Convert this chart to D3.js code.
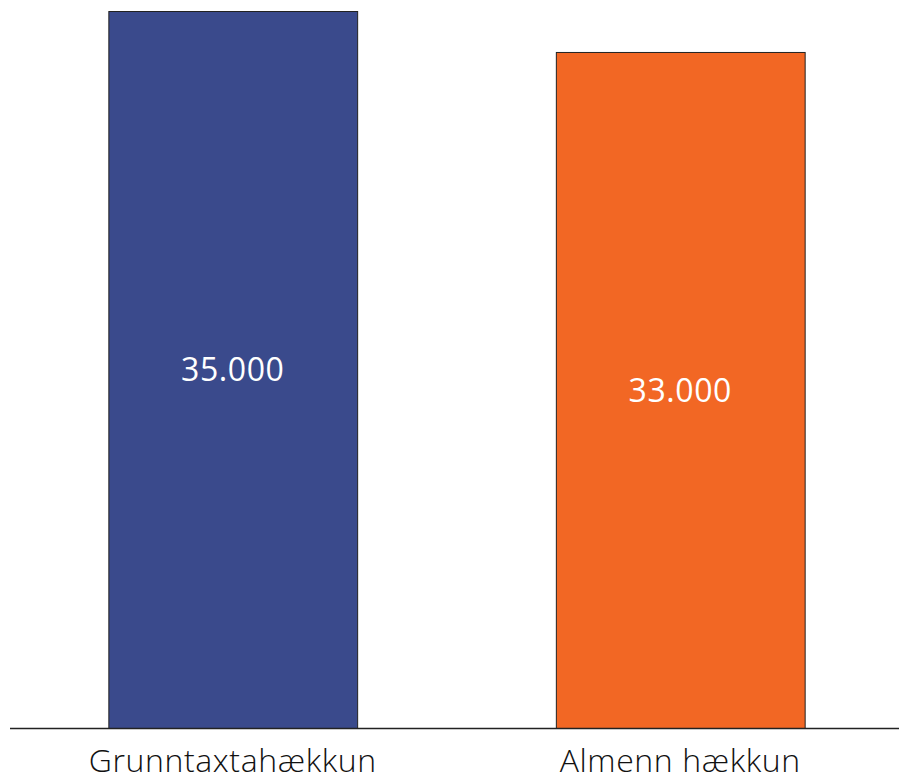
<!DOCTYPE html>
<html><head><meta charset="utf-8">
<script src="https://cdn.jsdelivr.net/npm/d3@7"></script>
<style>body{margin:0;background:#fff}svg{display:block}</style>
</head><body>
<script>
const categories = ["Grunntaxtahækkun", "Almenn hækkun"];
const values = [35000, 33000];
const valueLabels = ["35.000", "33.000"];
const colors = ["#3A4A8C", "#F26724"];

const W = 899, H = 779;
const svg = d3.select("body").append("svg").attr("width", W).attr("height", H);
const x = d3.scaleBand().domain(categories).range([9, 904]).paddingInner(0.444).paddingOuter(0.222);
const y = d3.scaleLinear().domain([0, 35000]).range([728, 11]);

svg.selectAll("rect.bar").data(categories).join("rect")
  .attr("class", "bar")
  .attr("x", d => x(d) + 0.5)
  .attr("width", x.bandwidth())
  .attr("y", (d, i) => y(values[i]) + 0.5)
  .attr("height", (d, i) => y(0) - y(values[i]))
  .attr("fill", (d, i) => colors[i])
  .attr("stroke", "#222")
  .attr("stroke-width", 1);

svg.selectAll("text.val").data(categories).join("text")
  .attr("class", "val")
  .attr("x", d => x(d) + x.bandwidth() / 2)
  .attr("y", (d, i) => (y(values[i]) + y(0)) / 2)
  .attr("dy", "0.36em")
  .attr("text-anchor", "middle")
  .attr("fill", "#fff")
  .style("font-family", "'Open Sans', sans-serif")
  .style("font-weight", 400)
  .style("font-size", "32px")
  .style("letter-spacing", "0.6px")
  .text((d, i) => valueLabels[i]);

const axis = d3.axisBottom(x).tickSize(0).tickPadding(0);
const g = svg.append("g").attr("transform", `translate(0,${y(0)})`).call(axis);
g.select(".domain").attr("d", "M10,0.5H899").attr("stroke", "#222").attr("stroke-width", 1.5);
g.selectAll(".tick text")
  .attr("y", 44)
  .attr("dy", 0)
  .attr("fill", "#111")
  .style("font-family", "'Open Sans', sans-serif")
  .style("font-weight", 300)
  .style("letter-spacing", "0.6px")
  .style("font-size", "32px");
</script>
</body></html>
